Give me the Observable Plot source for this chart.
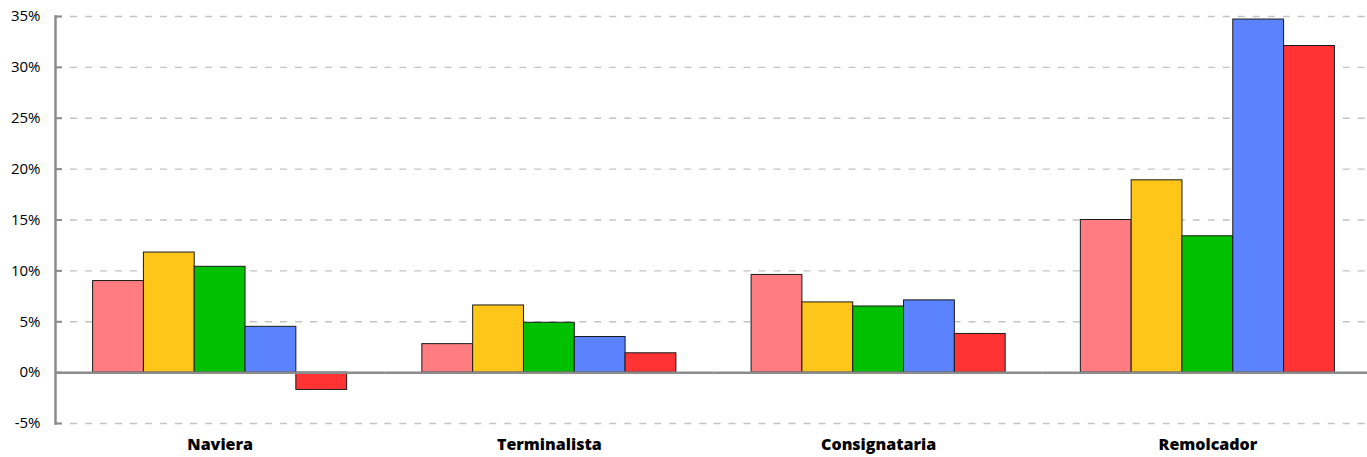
<!DOCTYPE html>
<html>
<head>
<meta charset="utf-8">
<script src="https://cdn.jsdelivr.net/npm/d3@7"></script>
<script src="https://cdn.jsdelivr.net/npm/@observablehq/plot@0.6"></script>
<style>
  html, body { margin: 0; padding: 0; background: #fff; overflow: hidden; }
  #chart svg { font-family: "Open Sans", "Noto Sans", sans-serif; }
</style>
</head>
<body>
<div id="chart"></div>
<script>
const categories = ["Naviera", "Terminalista", "Consignataria", "Remolcador"];
const seriesNames = ["Serie 1", "Serie 2", "Serie 3", "Serie 4", "Serie 5"];
const serie1 = [9.0, 2.8, 9.6, 15.0];
const serie2 = [11.8, 6.6, 6.9, 18.9];
const serie3 = [10.4, 4.9, 6.5, 13.4];
const serie4 = [4.5, 3.5, 7.1, 34.7];
const serie5 = [-1.7, 1.9, 3.8, 32.1];
const seriesColors = ["#FF7C80", "#FFC61A", "#00C000", "#5B83FF", "#FF3333"];
const yTicks = [-5, 0, 5, 10, 15, 20, 25, 30, 35];

const allSeries = [serie1, serie2, serie3, serie4, serie5];
const data = [];
categories.forEach((cat, i) => {
  allSeries.forEach((vals, j) => {
    data.push({category: cat, serie: seriesNames[j], value: vals[i]});
  });
});

const chart = Plot.plot({
  width: 1367,
  height: 457,
  marginLeft: 55,
  marginRight: -5,
  marginTop: 16,
  marginBottom: 34,
  style: {fontSize: "15px", color: "#000", background: "#fff"},
  fx: {domain: categories, padding: 0, round: false},
  x: {domain: seriesNames, paddingInner: 0, paddingOuter: 0.74, round: false, axis: null},
  y: {domain: [-5, 35], axis: null},
  color: {domain: seriesNames, range: seriesColors},
  marks: [
    Plot.gridY(yTicks, {stroke: "#c4c4c4", strokeOpacity: 1, strokeWidth: 1.3, strokeDasharray: "7,8"}),
    Plot.barY(data, {fx: "category", x: "serie", y: "value", fill: "serie", stroke: "#1a1a1a", strokeWidth: 1}),
    Plot.ruleY([0], {stroke: "#8c8c8c", strokeWidth: 2.5}),
    Plot.frame({anchor: "left", facetAnchor: "left", stroke: "#8c8c8c", strokeWidth: 2.5}),
    Plot.axisY(yTicks, {anchor: "left", tickSize: -7, tickPadding: 22, stroke: "#8c8c8c", strokeWidth: 2, fill: "#000", fontSize: 15, tickFormat: d => d + "%", label: null}),
    Plot.axisFx({anchor: "bottom", tickSize: 0, tickPadding: 15, fontSize: 16, fontWeight: 800, fill: "#000", label: null})
  ]
});
document.getElementById("chart").appendChild(chart);
</script>
</body>
</html>
